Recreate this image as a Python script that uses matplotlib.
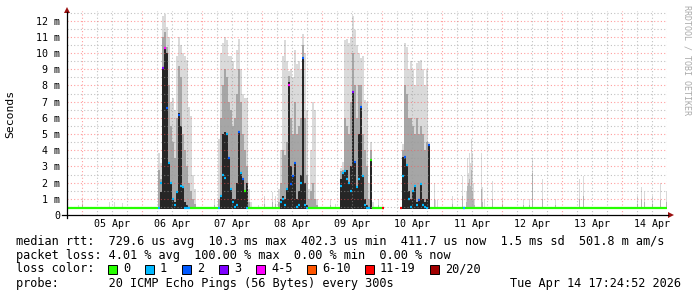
import matplotlib
matplotlib.use("Agg")
import matplotlib.pyplot as plt
from matplotlib.lines import Line2D
from matplotlib.patches import Polygon, Rectangle

# ------------------------------------------------------------------
# DATA  (time in hours since 2026-04-05 00:00, values in ms)
# ------------------------------------------------------------------
window_start_h = -6.0
window_end_h = 234.0
bin_h = 0.8            # consolidation step of the burst columns
spike_bin_h = 0.4
min_rtt_ms = 0.40
quiet_median_ms = 0.41
gap_start_h = 120.8    # no data (median unknown) between these
gap_end_h = 127.2

burst_start_h = [30.4, 54.4, 78.4, 103.2, 127.2]

b1_max  = [3.8, 3.2, 12.3, 12.4, 11.6, 11.0, 7.0, 7.2, 6.5, 9.8, 11.0, 10.5, 10.0, 9.8, 9.6, 6.7, 6.1, 2.5, 1.6]
b1_mid  = [2.8, 2.2, 11.0, 11.3, 10.4, 8.0, 5.5, 4.5, 3.5, 6.0, 9.2, 8.5, 5.0, 4.0, 3.0, 2.0, 1.5, 1.0, 0.7]
b1_core = [0.5, 1.4, 9.1, 10.4, 10.0, 3.2, 2.0, 1.0, 0.8, 1.5, 6.3, 5.5, 1.7, 0.8, 0.6, 0.5, 0.45, 0.45, 0.45]
b1_med  = [0.41, 2.0, 9.1, 10.3, 6.6, 3.2, 2.0, 1.0, 0.6, 1.4, 6.2, 1.8, 1.7, 0.45, 0.45, 0.41, 0.41, 0.41, 0.41]
b1_loss = [1, 1, 3, 4, 2, 1, 1, 1, 1, 1, 2, 1, 1, 1, 1, 1, 0, 0, 0]

b2_max  = [4.7, 10.0, 10.6, 11.0, 10.8, 9.8, 9.8, 9.5, 9.0, 10.2, 10.9, 9.0, 7.5, 7.2, 7.2, 1.6, 0.8]
b2_mid  = [1.0, 6.0, 8.0, 9.0, 8.5, 7.0, 6.5, 5.5, 6.0, 7.5, 9.0, 7.0, 5.0, 4.0, 3.0, 0.8, 0.5]
b2_core = [0.45, 1.2, 5.0, 5.1, 5.0, 3.5, 1.6, 1.0, 1.0, 2.0, 5.1, 2.6, 2.2, 1.5, 2.0, 0.45, 0.41]
b2_med  = [0.41, 1.2, 2.5, 2.3, 5.0, 3.5, 1.6, 0.8, 0.5, 0.6, 5.1, 2.6, 2.2, 1.5, 0.45, 0.41, 0.41]
b2_loss = [1, 1, 1, 1, 1, 2, 1, 1, 1, 1, 2, 1, 2, 0, 1, 0, 0]

b3_max  = [1.6, 4.0, 9.8, 10.8, 9.5, 8.9, 9.0, 8.5, 10.2, 9.3, 9.5, 9.0, 11.2, 10.0, 6.5, 1.6, 4.0, 7.0, 6.5, 1.0]
b3_mid  = [0.8, 2.0, 4.0, 3.7, 4.5, 8.6, 6.0, 5.0, 7.0, 5.0, 5.5, 6.0, 10.5, 6.0, 2.5, 1.0, 1.5, 2.0, 1.0, 0.6]
b3_core = [0.45, 1.0, 1.2, 1.0, 1.6, 8.2, 3.0, 2.4, 3.2, 1.0, 1.5, 2.5, 9.7, 2.0, 0.6, 0.45, 0.45, 0.45, 0.45, 0.41]
b3_med  = [0.41, 0.8, 1.0, 0.6, 1.6, 8.0, 1.9, 2.4, 3.2, 0.5, 0.6, 2.0, 9.7, 0.6, 0.45, 0.41, 0.41, 0.41, 0.41, 0.41]
b3_loss = [0, 1, 1, 1, 1, 4, 2, 2, 2, 1, 1, 1, 2, 1, 1, 0, 0, 0, 0, 0]

b4_max  = [2.9, 3.3, 10.8, 10.9, 10.6, 11.0, 12.3, 11.4, 10.5, 10.0, 9.7, 9.8, 7.1, 7.0, 2.0, 4.5, 0.8]
b4_mid  = [2.7, 2.8, 6.0, 5.5, 5.0, 7.0, 10.0, 8.0, 6.0, 8.0, 8.0, 5.0, 4.0, 3.0, 1.0, 4.0, 0.5]
b4_core = [2.2, 2.6, 2.7, 2.8, 2.0, 3.0, 7.6, 3.3, 1.7, 5.0, 6.7, 2.4, 1.0, 0.6, 0.5, 3.4, 0.41]
b4_med  = [1.8, 2.6, 2.7, 2.2, 2.0, 1.5, 7.6, 3.3, 1.7, 2.2, 6.7, 2.4, 0.6, 0.45, 0.45, 3.4, 0.41]
b4_loss = [1, 1, 1, 1, 1, 1, 3, 2, 1, 1, 2, 1, 1, 1, 1, 0, 0]

b5_max  = [0.5, 4.4, 10.6, 10.4, 9.0, 9.5, 9.0, 8.0, 9.4, 9.5, 9.6, 9.0, 8.0, 9.0, 4.5, 0.5]
b5_mid  = [0.45, 4.0, 8.0, 7.5, 6.0, 6.0, 5.5, 5.0, 6.0, 5.0, 5.5, 5.0, 4.0, 4.5, 4.4, 0.45]
b5_core = [0.41, 3.6, 3.6, 3.1, 1.5, 1.0, 1.5, 1.8, 0.8, 1.0, 2.0, 1.0, 0.8, 1.0, 4.3, 0.41]
b5_med  = [0.41, 2.4, 3.6, 3.1, 1.0, 0.5, 1.5, 1.8, 0.6, 0.9, 1.9, 0.6, 0.5, 0.45, 4.3, 0.41]
b5_loss = [6, 1, 2, 1, 1, 1, 1, 1, 1, 2, 1, 1, 1, 1, 2, 0]

# isolated smoke spikes in the quiet periods
spike_h = [-1.6, 0.0, 10.8, 12.8, 16.0, 52.8, 70.4, 72.8, 76.0, 77.2, 99.2, 101.2, 118.4,
           140.8, 141.2, 142.0, 148.0, 152.0, 153.6, 154.0, 154.4, 154.8, 155.2, 155.6, 156.0,
           156.4, 156.8, 159.6, 160.0, 160.8, 164.0, 168.0, 176.4, 178.8, 180.0, 184.0, 189.2,
           198.8, 200.4, 222.0, 223.6, 224.8, 228.0, 231.2, 233.6]
spike_max = [0.6, 1.0, 0.8, 0.8, 0.75, 1.0, 0.6, 1.2, 1.4, 1.2, 1.0, 0.7, 1.0,
             2.0, 0.9, 0.9, 1.2, 2.4, 1.5, 3.5, 2.6, 3.8, 3.2, 4.7, 3.8,
             2.0, 1.0, 3.8, 1.7, 0.9, 2.1, 1.0, 1.0, 1.0, 3.5, 2.2, 1.0,
             2.2, 2.4, 1.2, 1.7, 1.4, 1.2, 2.0, 1.5]
spike_mid = [0.5, 0.6, 0.5, 0.5, 0.5, 0.6, 0.5, 0.7, 0.8, 0.7, 0.6, 0.5, 0.6,
             1.0, 0.5, 0.5, 0.7, 1.2, 0.8, 1.8, 2.0, 2.2, 1.8, 2.8, 1.5,
             1.0, 0.6, 1.6, 0.8, 0.5, 1.0, 0.6, 0.6, 0.6, 2.6, 1.0, 0.6,
             1.0, 1.2, 0.7, 0.9, 0.8, 0.7, 0.9, 0.8]

# quiet-period median points with packet loss
event_h = [120.0, 152.4]
event_loss = [6, 1]

loss_labels = ["0", "1", "2", "3", "4-5", "6-10", "11-19", "20/20"]
loss_colors = ["#26ff00", "#00b8ff", "#0059ff", "#7e00ff", "#ff00ff", "#ff5500", "#ff0000", "#a10000"]

y_tick_values = [0, 1, 2, 3, 4, 5, 6, 7, 8, 9, 10, 11, 12]
y_tick_labels = ["0", "1 m", "2 m", "3 m", "4 m", "5 m", "6 m", "7 m", "8 m", "9 m", "10 m", "11 m", "12 m"]
x_label_h = [12, 36, 60, 84, 108, 132, 156, 180, 204, 228]
x_labels = ["05 Apr", "06 Apr", "07 Apr", "08 Apr", "09 Apr", "10 Apr", "11 Apr", "12 Apr", "13 Apr", "14 Apr"]

legend_rtt = "median rtt:  729.6 us avg  10.3 ms max  402.3 us min  411.7 us now  1.5 ms sd  501.8 m am/s"
legend_loss = "packet loss: 4.01 % avg  100.00 % max  0.00 % min  0.00 % now"
legend_color_title = "loss color:"
legend_probe = "probe:       20 ICMP Echo Pings (56 Bytes) every 300s"
legend_date = "Tue Apr 14 17:24:52 2026"
watermark = "RRDTOOL / TOBI OETIKER"
y_unit = "Seconds"

bursts = [
    (b1_max, b1_mid, b1_core, b1_med, b1_loss),
    (b2_max, b2_mid, b2_core, b2_med, b2_loss),
    (b3_max, b3_mid, b3_core, b3_med, b3_loss),
    (b4_max, b4_mid, b4_core, b4_med, b4_loss),
    (b5_max, b5_mid, b5_core, b5_med, b5_loss),
]

# ------------------------------------------------------------------
# FIGURE
# ------------------------------------------------------------------
W, H = 697, 297
fig = plt.figure(figsize=(W / 100, H / 100), dpi=100)
fig.patch.set_facecolor("white")
MONO = "DejaVu Sans Mono"
LEG_FS = 8.55


def fx(x):
    return x / W


def fy(y):
    return 1 - y / H


ax = fig.add_axes([fx(67), fy(215), 600 / W, (215 - 11) / H])
ax.set_facecolor("white")
ax.set_xlim(window_start_h, window_end_h)
ax.set_ylim(0, 12.6)
for s in ax.spines.values():
    s.set_visible(False)

LIGHT, MID, CORE = "#dadada", "#a6a6a6", "#262626"


def bars(x0, step, heights, color, z):
    xs = [x0 + i * step for i in range(len(heights))]
    ax.bar(xs, [h - min_rtt_ms for h in heights], width=step, bottom=min_rtt_ms,
           align="edge", color=color, linewidth=0, zorder=z)


# smoke spikes in quiet periods
ax.bar(spike_h, [m - min_rtt_ms for m in spike_max], width=spike_bin_h, bottom=min_rtt_ms,
       align="edge", color=LIGHT, linewidth=0, zorder=1)
ax.bar(spike_h, [m - min_rtt_ms for m in spike_mid], width=spike_bin_h, bottom=min_rtt_ms,
       align="edge", color="#b4b4b4", linewidth=0, zorder=2)

# burst smoke
for start, (mx, md, cr, med, loss) in zip(burst_start_h, bursts):
    bars(start, bin_h, mx, LIGHT, 1)
    bars(start, bin_h, md, MID, 2)
    bars(start, bin_h, cr, CORE, 3)

# grid (drawn over the smoke, under the median)
for h in range(int(window_start_h) + 6, int(window_end_h) + 1, 6):
    if h % 24 == 0:
        ax.axvline(h, color="#ff5050", alpha=0.55, lw=0.8, ls=(0, (1, 2)), zorder=4)
    else:
        ax.axvline(h, color="#9a9a9a", alpha=0.6, lw=0.8, ls=(0, (1, 2)), zorder=4)
for k in range(1, 26):
    v = k * 0.5
    if k % 2 == 0:
        ax.axhline(v, color="#ff5050", alpha=0.55, lw=0.8, ls=(0, (1, 2)), zorder=4)
    else:
        ax.axhline(v, color="#9a9a9a", alpha=0.6, lw=0.8, ls=(0, (1, 2)), zorder=4)

# quiet median line
burst_ends = [s + len(b[0]) * bin_h for s, b in zip(burst_start_h, bursts)]
quiet_from = [window_start_h] + burst_ends
quiet_to = burst_start_h[:4] + [gap_start_h] + [window_end_h]
ax.hlines([quiet_median_ms] * len(quiet_from), quiet_from, quiet_to,
          colors=loss_colors[0], linewidth=1.6, zorder=5, capstyle="butt")

# burst medians coloured by loss
for start, (mx, md, cr, med, loss) in zip(burst_start_h, bursts):
    xs = [start + i * bin_h for i in range(len(med))]
    ax.hlines(med, xs, [x + bin_h for x in xs], colors=[loss_colors[l] for l in loss],
              linewidth=1.6, zorder=5, capstyle="butt")

# loss events on the quiet median
ax.hlines([quiet_median_ms] * len(event_h), event_h, [e + bin_h for e in event_h],
          colors=[loss_colors[l] for l in event_loss], linewidth=1.6, zorder=6, capstyle="butt")

# ticks / labels
ax.set_yticks(y_tick_values)
ax.set_yticklabels(y_tick_labels, fontfamily=MONO, fontsize=7.2)
ax.set_xticks(x_label_h)
ax.set_xticklabels(x_labels, fontfamily=MONO, fontsize=7.2)
ax.tick_params(axis="y", length=0, pad=5.0)
ax.tick_params(axis="x", length=0, pad=3.0)

# axis lines and arrows
fig.add_artist(Line2D([fx(62), fx(668)], [fy(215), fy(215)], color="black", lw=0.9))
fig.add_artist(Line2D([fx(67), fx(67)], [fy(218), fy(12)], color="black", lw=0.9))
fig.add_artist(Polygon([(fx(64), fy(13)), (fx(70), fy(13)), (fx(67), fy(7))],
                       closed=True, color="#9a1010", lw=0))
fig.add_artist(Polygon([(fx(668), fy(212)), (fx(668), fy(218)), (fx(674), fy(215))],
                       closed=True, color="#9a1010", lw=0))

# unit and watermark
fig.text(fx(10), fy(114), y_unit, rotation=90, ha="center", va="center",
         fontfamily=MONO, fontsize=8.2)
fig.text(fx(687), fy(5), watermark, rotation=-90, ha="center", va="top",
         fontfamily=MONO, fontsize=6.0, color="#aaaaaa")

# legend
fig.text(fx(16), fy(241), legend_rtt, ha="left", va="center", fontfamily=MONO, fontsize=LEG_FS)
fig.text(fx(16), fy(256), legend_loss, ha="left", va="center", fontfamily=MONO, fontsize=LEG_FS)
fig.text(fx(16), fy(269), legend_color_title, ha="left", va="center", fontfamily=MONO, fontsize=LEG_FS)
x = 108
for lab, col in zip(loss_labels, loss_colors):
    fig.add_artist(Rectangle((fx(x), fy(273.5)), 8.5 / W, 8.5 / H, facecolor=col,
                             edgecolor="black", lw=0.7))
    fig.text(fx(x + 15), fy(269), lab, ha="left", va="center", fontfamily=MONO, fontsize=LEG_FS)
    x += 30 + 7 * len(lab)
fig.text(fx(16), fy(283), legend_probe, ha="left", va="center", fontfamily=MONO, fontsize=LEG_FS)
fig.text(fx(681), fy(283), legend_date, ha="right", va="center", fontfamily=MONO, fontsize=LEG_FS)

fig.savefig("out.png", dpi=100, facecolor="white")
